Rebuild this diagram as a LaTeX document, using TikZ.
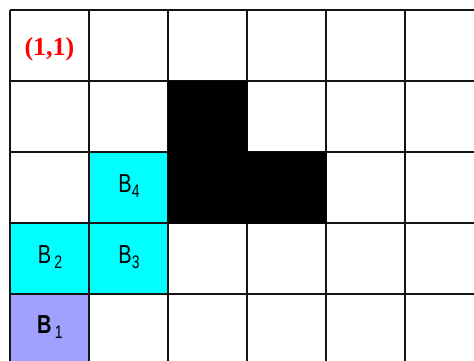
\documentclass[tikz,border=0pt]{standalone}
\usepackage{fontspec}
\setmainfont{Liberation Sans}
\newfontfamily\serifbold{Liberation Serif}
\definecolor{cellcyan}{RGB}{0,255,255}
\definecolor{cellblue}{RGB}{160,160,255}
\definecolor{gridcol}{RGB}{20,20,20}
\newcommand{\tallB}[1]{\scalebox{1}[1.3]{#1}}
\newcommand{\subdig}[1]{\raisebox{-4.5pt}{\tallB{\fontsize{14}{14}\selectfont #1}}}
\begin{document}
\begin{tikzpicture}[x=1pt,y=-1pt,
  gridline/.style={line width=1.8pt, draw=gridcol},
  lbl/.style={font=\fontsize{20}{20}\selectfont, inner sep=0pt, anchor=center}]
\useasboundingbox (0,0) rectangle (474,360);
\fill[white] (0,0) rectangle (474,360);
% coloured cells
\fill[cellcyan] (89,152) rectangle (168,223);
\fill[cellcyan] (10,223) rectangle (89,294);
\fill[cellcyan] (89,223) rectangle (168,294);
\fill[cellblue] (10,294) rectangle (89,365);
% grid
\foreach \x in {10,89,168,247,326,405} \draw[gridline] (\x,10) -- (\x,362);
\foreach \y in {10,81,152,223,294} \draw[gridline] (10,\y) -- (476,\y);
% obstacle
\fill[black] (167.5,80.5) -- (247.5,80.5) -- (247.5,151.5) -- (326.5,151.5) -- (326.5,223.5) -- (167.5,223.5) -- cycle;
% labels
\node[inner sep=0pt, text=red, font=\serifbold\bfseries\fontsize{26}{26}\selectfont] (origin) at (49.5,49) {(1,1)};
\node[lbl] (b4) at (129,186) {\tallB{B}\subdig{4}};
\node[lbl] (b2) at (50,257) {\tallB{B}\,\subdig{2}};
\node[lbl] (b3) at (129,257) {\tallB{B}\subdig{3}};
\node[lbl] (b1) at (50,327) {\tallB{\bfseries B}\,\subdig{1}};
\end{tikzpicture}
\end{document}
